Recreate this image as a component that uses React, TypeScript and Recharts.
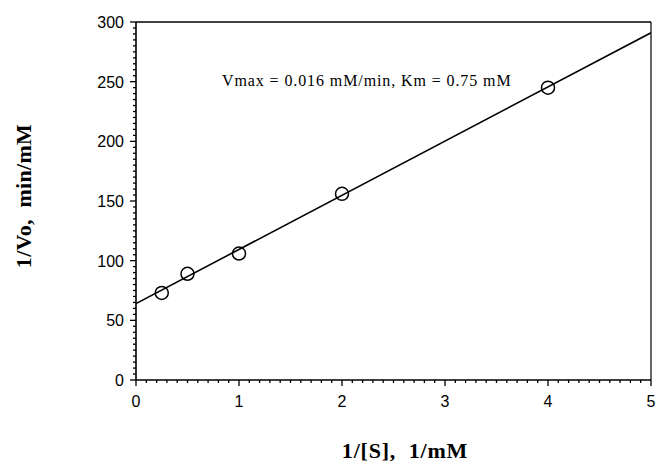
import {
  ComposedChart,
  Line,
  Scatter,
  XAxis,
  YAxis,
  ReferenceLine,
} from "recharts";

// 1/[S] (1/mM) vs 1/Vo (min/mM) — Lineweaver-Burk plot
const SUBSTRATE_INV = [0.25, 0.5, 1, 2, 4];
const VELOCITY_INV = [73, 89, 106, 156, 245];

// fitted line, read at both ends of the x range
const FIT_X = [0, 5];
const FIT_Y = [64, 291];

const X_MAJOR = [0, 1, 2, 3, 4, 5];
const Y_MAJOR = [0, 50, 100, 150, 200, 250, 300];
const X_MINOR = Array.from({ length: 51 }, (_, i) => i / 10);
const Y_MINOR = Array.from({ length: 61 }, (_, i) => i * 5);

const ANNOTATION = "Vmax = 0.016 mM/min, Km = 0.75 mM";
const X_TITLE = "1/[S],  1/mM";
const Y_TITLE = "1/Vo,  min/mM";

const points = SUBSTRATE_INV.map((x, i) => ({ x, y: VELOCITY_INV[i] }));
const fit = FIT_X.map((x, i) => ({ x, y: FIT_Y[i] }));

const tickFont = '"Liberation Sans", Arial, sans-serif';
const titleFont = '"Liberation Serif", "Times New Roman", serif';

function XTick({ x, y, payload }: any) {
  const v = payload.value;
  const major = X_MAJOR.some((m) => Math.abs(m - v) < 1e-6);
  return (
    <g>
      <line x1={x} x2={x} y1={y} y2={y + (major ? 6 : 3)} stroke="#000" strokeWidth={1.3} />
      {major && (
        <text x={x} y={y + 27} textAnchor="middle" fontSize={16} fontFamily={tickFont} fill="#000">
          {Math.round(v)}
        </text>
      )}
    </g>
  );
}

function YTick({ x, y, payload }: any) {
  const v = payload.value;
  const major = Y_MAJOR.includes(v);
  return (
    <g>
      <line x1={x} x2={x - (major ? 6 : 3)} y1={y} y2={y} stroke="#000" strokeWidth={1.3} />
      {major && (
        <text x={x - 12} y={y + 6} textAnchor="end" fontSize={16} fontFamily={tickFont} fill="#000">
          {v}
        </text>
      )}
    </g>
  );
}

function Ring({ cx, cy }: any) {
  return <circle cx={cx} cy={cy} r={6.5} fill="none" stroke="#000" strokeWidth={1.5} />;
}

export default function App() {
  return (
    <div style={{ position: "absolute", left: 0, top: 0, width: 656, height: 464, background: "#fff" }}>
      <ComposedChart
        width={656}
        height={464}
        margin={{ top: 22, right: 5, left: 0, bottom: 0 }}
      >
        <XAxis
          dataKey="x"
          type="number"
          domain={[0, 5]}
          ticks={X_MINOR}
          interval={0}
          allowDataOverflow
          height={84}
          tickSize={0}
          tickMargin={0}
          tickLine={false}
          axisLine={{ stroke: "#000", strokeWidth: 1.6 }}
          tick={<XTick />}
        />
        <YAxis
          dataKey="y"
          type="number"
          domain={[0, 300]}
          ticks={Y_MINOR}
          interval={0}
          allowDataOverflow
          width={136}
          tickSize={0}
          tickMargin={0}
          tickLine={false}
          axisLine={{ stroke: "#000", strokeWidth: 1.6 }}
          tick={<YTick />}
        />
        <ReferenceLine y={300} stroke="#000" strokeWidth={1.6} />
        <ReferenceLine x={5} stroke="#000" strokeWidth={1.2} />
        <Line
          data={fit}
          dataKey="y"
          type="linear"
          stroke="#000"
          strokeWidth={1.6}
          dot={false}
          activeDot={false}
          isAnimationActive={false}
        />
        <Scatter data={points} dataKey="y" shape={<Ring />} isAnimationActive={false} />
      </ComposedChart>
      <svg
        width={656}
        height={464}
        style={{ position: "absolute", left: 0, top: 0, pointerEvents: "none" }}
      >
        <text
          x={222}
          y={86}
          fontSize={16}
          letterSpacing={0.9}
          fontFamily={titleFont}
          fill="#000"
          style={{ whiteSpace: "pre" }}
        >
          {ANNOTATION}
        </text>
        <text
          x={405}
          y={458}
          textAnchor="middle"
          fontSize={22}
          fontWeight="bold"
          letterSpacing={0.8}
          fontFamily={titleFont}
          fill="#000"
          style={{ whiteSpace: "pre" }}
        >
          {X_TITLE}
        </text>
        <text
          x={31}
          y={196}
          textAnchor="middle"
          fontSize={22}
          fontWeight="bold"
          letterSpacing={0.3}
          fontFamily={titleFont}
          fill="#000"
          transform="rotate(-90, 31, 196)"
          style={{ whiteSpace: "pre" }}
        >
          {Y_TITLE}
        </text>
      </svg>
    </div>
  );
}
